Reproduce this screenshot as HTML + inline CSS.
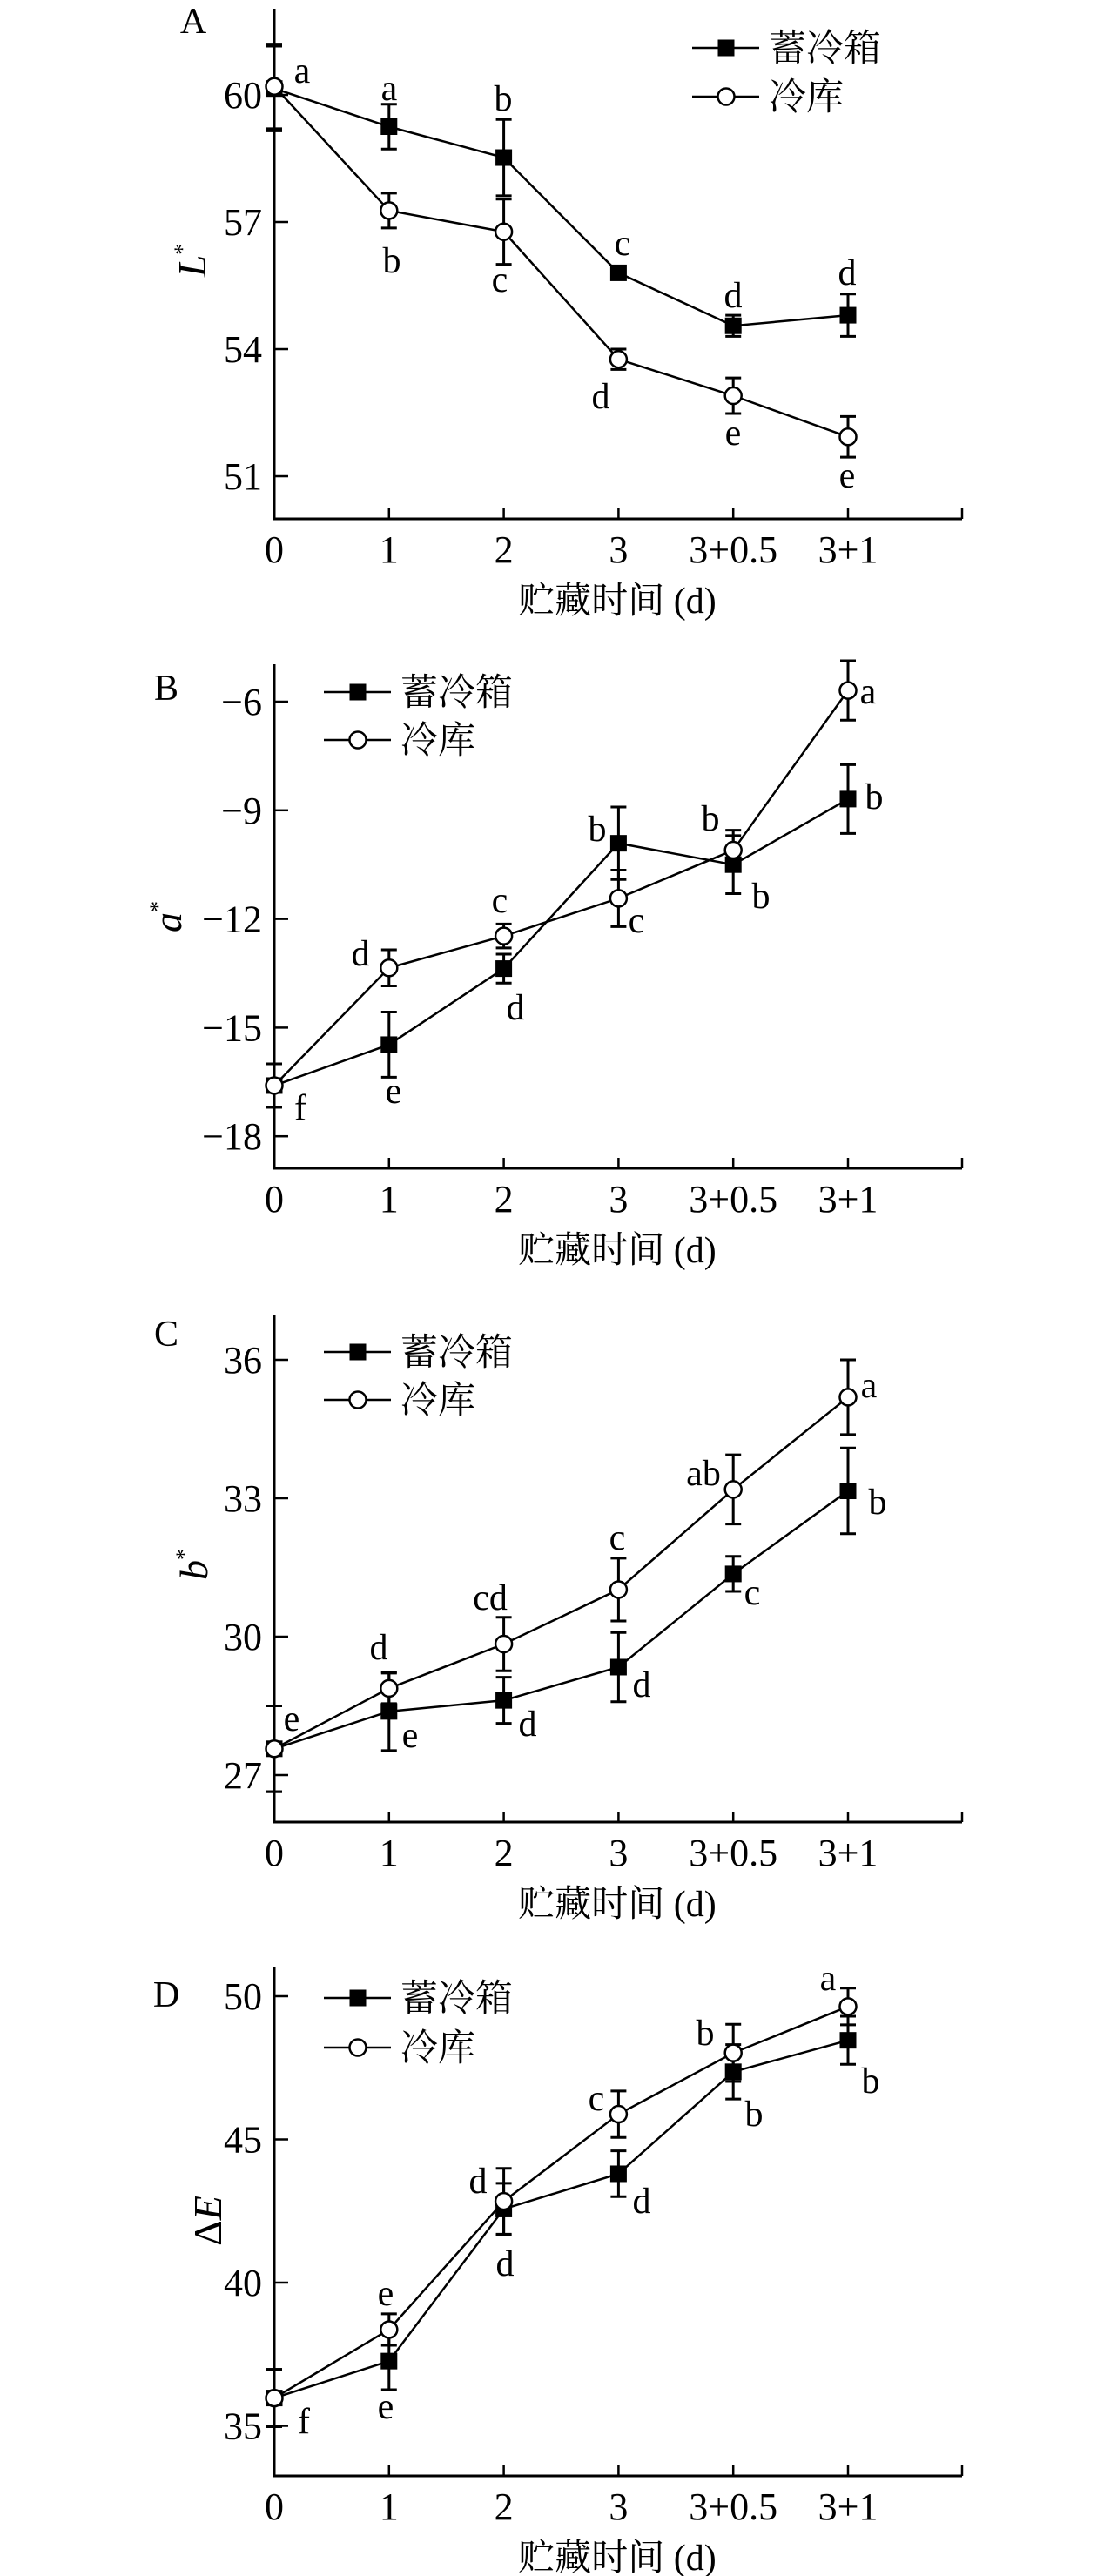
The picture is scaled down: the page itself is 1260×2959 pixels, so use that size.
<!DOCTYPE html>
<html><head><meta charset="utf-8"><title>贮藏时间 charts</title>
<style>
html,body{margin:0;padding:0;background:#fff;}
svg{display:block;}
text{font-family:"Liberation Serif","Noto Serif CJK SC","Noto Sans CJK SC",serif;fill:#000;}
</style></head>
<body>
<svg id="chart" width="1260" height="2959" viewBox="0 0 1260 2959" xmlns="http://www.w3.org/2000/svg"></svg>
<script>
const categories = ['0','1','2','3','3+0.5','3+1'];
// Panel A: L*
const aTicks = [51,54,57,60];
const aBox = [60.15,59.25,58.52,55.8,54.55,54.8];
const aBoxErr = [1.0,0.53,0.9,0.1,0.25,0.5];
const aStore = [60.2,57.27,56.77,53.76,52.9,51.93];
const aStoreErr = [1.0,0.41,0.77,0.24,0.42,0.48];
// Panel B: a*
const bTicks = [-18,-15,-12,-9,-6];
const bBox = [-16.6,-15.47,-13.37,-9.91,-10.5,-8.69];
const bBoxErr = [0.6,0.9,0.4,1.0,0.8,0.95];
const bStore = [-16.6,-13.35,-12.47,-11.43,-10.1,-5.69];
const bStoreErr = [0.6,0.5,0.33,0.78,0.55,0.82];
// Panel C: b*
const cTicks = [27,30,33,36];
const cBox = [27.57,28.38,28.62,29.34,31.36,33.16];
const cBoxErr = [0.93,0.85,0.5,0.75,0.38,0.93];
const cStore = [27.57,28.88,29.84,31.02,33.19,35.19];
const cStoreErr = [0.93,0.33,0.58,0.68,0.75,0.81];
// Panel D: ΔE
const dTicks = [35,40,45,50];
const dBox = [35.97,37.26,42.57,43.8,47.36,48.46];
const dBoxErr = [1.0,1.0,0.9,0.8,0.95,0.84];
const dStore = [35.97,38.36,42.84,45.88,48.02,49.64];
const dStoreErr = [1.0,0.55,1.15,0.81,1.0,0.64];

const NS='http://www.w3.org/2000/svg';
const svg=document.getElementById('chart');
function mk(tag,attrs,parent,txt){const e=document.createElementNS(NS,tag);for(const k in attrs)e.setAttribute(k,attrs[k]);if(txt!==undefined)e.textContent=txt;(parent||svg).appendChild(e);return e;}
const X0=315, DX=131.8, XEND=1105;
function xPos(i){return X0+i*DX;}

function panel(cfg){
  const g=mk('g',{});
  
  
  const yPos=v=>cfg.refY+(cfg.refV-v)*cfg.unit;
  const ax=mk('path',{d:`M${X0},${cfg.top} V${cfg.bottom} H${XEND}`,stroke:'#000','stroke-width':3,fill:'none'},g);
  
  
  categories.forEach((c,i)=>{
    mk('line',{x1:xPos(i),x2:xPos(i),y1:cfg.bottom,y2:cfg.bottom-12,stroke:'#000','stroke-width':2.5},g);
    const t=mk('text',{x:xPos(i),y:cfg.bottom+50,'font-size':44,'text-anchor':'middle'},g,c);
    
    
  });
  mk('line',{x1:XEND,x2:XEND,y1:cfg.bottom,y2:cfg.bottom-12,stroke:'#000','stroke-width':2.5},g);
  const xt=mk('text',{x:709,y:cfg.bottom+108,'font-size':42,'text-anchor':'middle'},g,'贮藏时间 (d)');
  
  
  cfg.ticks.forEach(v=>{
    const y=yPos(v);
    mk('line',{x1:X0,x2:X0+16,y1:y,y2:y,stroke:'#000','stroke-width':2.5},g);
    const t=mk('text',{x:X0-14,y:y+15,'font-size':44,'text-anchor':'end'},g,v<0?'\u2212'+(-v):String(v));
    
    
  });
  const yt=mk('text',{x:cfg.ylx,y:cfg.yly,'font-size':46,'text-anchor':'middle',transform:`rotate(-90 ${cfg.ylx} ${cfg.yly})`},g);
  
  
  cfg.ytitle(yt);
  const pl=mk('text',{x:cfg.plx,y:cfg.ply,'font-size':42,'text-anchor':'middle'},g,cfg.id.toUpperCase());
  
  
  function series(vals,errs,kind){
    const sg=mk('g',{},g);
    
    
    mk('polyline',{points:vals.map((v,i)=>xPos(i)+','+yPos(v)).join(' '),fill:'none',stroke:'#000','stroke-width':2.5},sg);
    vals.forEach((v,i)=>{
      const x=xPos(i),y=yPos(v),e=errs[i]*cfg.unit;
      const eb=mk('path',{d:`M${x},${y-e}V${y+e}M${x-9},${y-e}H${x+9}M${x-9},${y+e}H${x+9}`,stroke:'#000','stroke-width':3,fill:'none'},sg);
      
      
    });
    vals.forEach((v,i)=>{
      const x=xPos(i),y=yPos(v);
      let m;
      if(kind==='sq') m=mk('rect',{x:x-9.5,y:y-9.5,width:19,height:19,fill:'#000'},sg);
      else m=mk('circle',{cx:x,cy:y,r:9.5,fill:'#fff',stroke:'#000','stroke-width':2.5},sg);
      
      
    });
  }
  series(cfg.box,cfg.boxErr,'sq');
  series(cfg.store,cfg.storeErr,'ci');
  cfg.letters.forEach(l=>{
    const t=mk('text',{x:l[1],y:l[2]+14,'font-size':42,'text-anchor':'middle'},g,l[0]);
    
    
  });
  const lg=mk('g',{},g);
  
  
  const L=cfg.legend;
  [['蓄冷箱','sq',L[1]],['冷库','ci',L[2]]].forEach(r=>{
    const eg=mk('g',{},lg);
    
    
    mk('line',{x1:L[0],x2:L[0]+77,y1:r[2],y2:r[2],stroke:'#000','stroke-width':2.5},eg);
    const cx=L[0]+39;
    if(r[1]==='sq') mk('rect',{x:cx-9.5,y:r[2]-9.5,width:19,height:19,fill:'#000'},eg);
    else mk('circle',{cx:cx,cy:r[2],r:9.5,fill:'#fff',stroke:'#000','stroke-width':2.5},eg);
    mk('text',{x:L[0]+88,y:r[2]+15,'font-size':43},eg,r[0]);
  });
}
function italicStar(letter){return t=>{mk('tspan',{'font-style':'italic'},t,letter);mk('tspan',{'font-size':26,dy:-18},t,'*');};}

panel({id:'a',top:10,bottom:596,refV:60,refY:109,unit:48.67,ticks:aTicks,box:aBox,boxErr:aBoxErr,store:aStore,storeErr:aStoreErr,
  ylx:236,yly:299,ytitle:italicStar('L'),plx:222,ply:38,legend:[795,55,111],
  letters:[['a',347,81],['a',447,101],['b',578,113],['c',715,279],['d',842,339],['d',973,313],
           ['b',450,299],['c',574,321],['d',690,455],['e',842,497],['e',973,546]]});
panel({id:'b',top:763,bottom:1342,refV:-6,refY:806,unit:41.6,ticks:bTicks,box:bBox,boxErr:bBoxErr,store:bStore,storeErr:bStoreErr,
  ylx:208,yly:1053,ytitle:italicStar('a'),plx:191,ply:804,legend:[372,795,850],
  letters:[['e',452,1253],['d',592,1157],['b',686,952],['b',874,1029],['b',1004,915],
           ['f',345,1272],['d',414,1095],['c',574,1034],['c',731,1057],['b',816,940],['a',997,794]]});
panel({id:'c',top:1510,bottom:2093,refV:36,refY:1562,unit:53,ticks:cTicks,box:cBox,boxErr:cBoxErr,store:cStore,storeErr:cStoreErr,
  ylx:238,yly:1797,ytitle:italicStar('b'),plx:191,ply:1546,legend:[372,1553,1608],
  letters:[['e',335,1974],['e',471,1993],['d',606,1980],['d',737,1935],['c',864,1829],['b',1008,1725],
           ['d',435,1892],['cd',563,1835],['c',709,1766],['ab',808,1692],['a',998,1591]]});
panel({id:'d',top:2260,bottom:2844,refV:50,refY:2293,unit:32.9,ticks:dTicks,box:dBox,boxErr:dBoxErr,store:dStore,storeErr:dStoreErr,
  ylx:254,yly:2551,ytitle:t=>{mk('tspan',{},t,'Δ');mk('tspan',{'font-style':'italic'},t,'E');},plx:191,ply:2305,legend:[372,2295,2352],
  letters:[['e',443,2634],['e',443,2764],['f',349,2781],['d',549,2505],['d',580,2600],['c',685,2410],['d',737,2528],['b',810,2335],['b',866,2428],['a',951,2272],['b',1000,2390]]});
</script>
</body></html>
